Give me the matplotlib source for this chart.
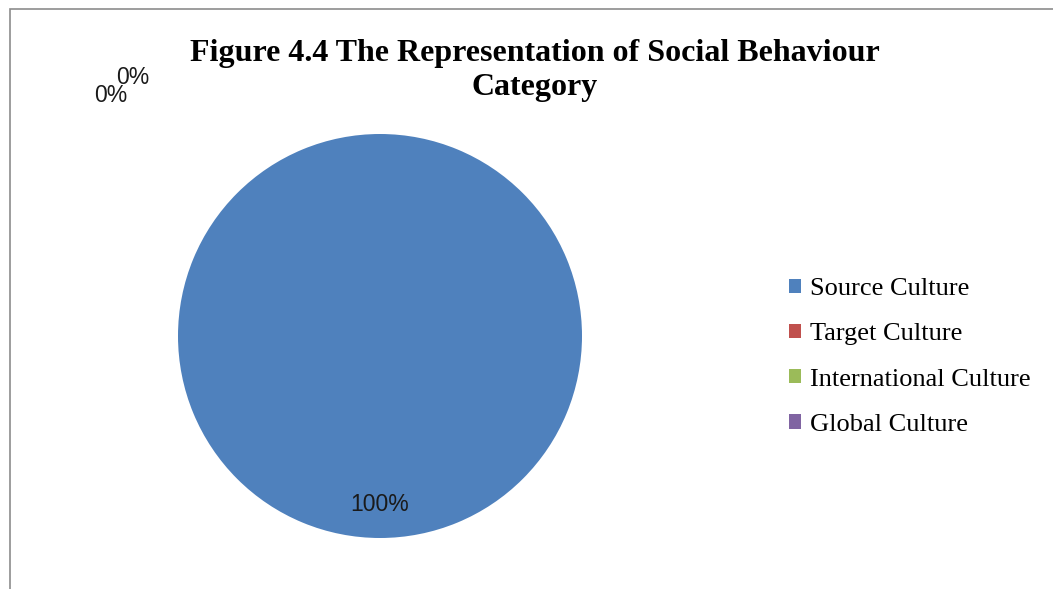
import matplotlib.pyplot as plt
from matplotlib.patches import Rectangle

categories = ["Source Culture", "Target Culture", "International Culture", "Global Culture"]
values = [100, 0, 0, 0]
colors = ["#4F81BD", "#C0504D", "#9BBB59", "#8064A2"]

W, H = 1053, 589
fig = plt.figure(figsize=(W / 100, H / 100), dpi=100)

# chart border (left and top edges show)
fig.add_artist(Rectangle((10 / W, -0.05), 1.1, (H - 9) / H + 0.05, transform=fig.transFigure,
                         fill=False, edgecolor="#8c8c8c", linewidth=1.2))

ax = fig.add_axes([178 / W, 51 / H, 404 / W, 404 / H])
wedges, _ = ax.pie(values, colors=colors, startangle=90, counterclock=False,
                   radius=1, wedgeprops=dict(linewidth=0))
ax.set_xlim(-1, 1)
ax.set_ylim(-1, 1)
ax.set_aspect("equal")

total = sum(values)
pcts = ["{:.0f}%".format(100 * v / total) for v in values]
lab = dict(fontsize=16.5, family="Liberation Sans", color="#1a1a1a", ha="center", va="center")

# label for the main slice sits inside, toward the bottom
ax.text(0, -0.835, pcts[0], **lab)
# the empty slices get their labels bunched up top left
fig.text(111 / W, 1 - 95 / H, pcts[1], **lab)
fig.text(133 / W, 1 - 77 / H, pcts[2], **lab)

fig.text(535 / W, 1 - 70.5 / H, "Figure 4.4 The Representation of Social Behaviour\nCategory",
         ha="center", va="center", fontsize=23, fontweight="bold",
         family="Liberation Serif", linespacing=1.25)

leg = fig.legend(wedges, categories, loc="upper left", bbox_to_anchor=(776 / W, 1 - 265 / H),
                 frameon=False, prop=dict(family="Liberation Serif", size=19),
                 handlelength=0.45, handleheight=0.45, handletextpad=0.35, labelspacing=0.88,
                 borderpad=0)

fig.savefig("out.png", dpi=100)
